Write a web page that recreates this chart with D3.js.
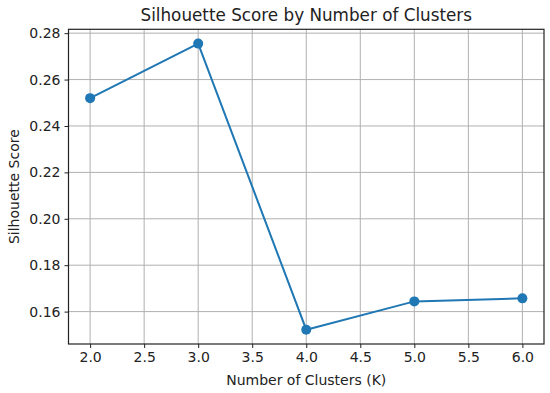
<!DOCTYPE html>
<html>
<head>
<meta charset="utf-8">
<script src="https://cdn.jsdelivr.net/npm/d3@7"></script>
<style>
  body { margin: 0; background: #fff; }
  text { font-family: "DejaVu Sans", sans-serif; fill: #222; }
</style>
</head>
<body>
<div id="chart"></div>
<script>
// Chart data
const clusters = [2, 3, 4, 5, 6];
const scores = [0.2520, 0.2755, 0.1522, 0.1644, 0.1657];
const xTicks = [2.0, 2.5, 3.0, 3.5, 4.0, 4.5, 5.0, 5.5, 6.0];
const yTicks = [0.16, 0.18, 0.20, 0.22, 0.24, 0.26, 0.28];

const [w, h] = [550, 393];
const margin = { top: 29.3, right: 6, bottom: 49, left: 68.5 };
const lineColor = "#1f77b4";

// matplotlib-like 5% margins
const pad = (lo, hi) => [lo - (hi - lo) * 0.05, hi + (hi - lo) * 0.05];

const xScale = d3.scaleLinear()
  .domain(pad(d3.min(clusters), d3.max(clusters)))
  .range([margin.left, w - margin.right]);

const yScale = d3.scaleLinear()
  .domain(pad(d3.min(scores), d3.max(scores)))
  .range([h - margin.bottom, margin.top]);

const svg = d3.select("#chart")
  .append("svg")
  .attr("width", w)
  .attr("height", h);

// Grid lines
svg.append("g")
  .selectAll("line")
  .data(xTicks)
  .enter()
  .append("line")
  .attr("x1", (d) => xScale(d))
  .attr("x2", (d) => xScale(d))
  .attr("y1", margin.top)
  .attr("y2", h - margin.bottom)
  .attr("stroke", "#b0b0b0")
  .attr("stroke-width", 1);

svg.append("g")
  .selectAll("line")
  .data(yTicks)
  .enter()
  .append("line")
  .attr("x1", margin.left)
  .attr("x2", w - margin.right)
  .attr("y1", (d) => yScale(d))
  .attr("y2", (d) => yScale(d))
  .attr("stroke", "#b0b0b0")
  .attr("stroke-width", 1);

// Axes
const xAxis = d3.axisBottom(xScale)
  .tickValues(xTicks)
  .tickSize(4)
  .tickPadding(4)
  .tickFormat(d3.format(".1f"));

const yAxis = d3.axisLeft(yScale)
  .tickValues(yTicks)
  .tickSize(4)
  .tickPadding(4)
  .tickFormat(d3.format(".2f"));

const gx = svg.append("g")
  .attr("transform", `translate(0, ${h - margin.bottom})`)
  .call(xAxis);

const gy = svg.append("g")
  .attr("transform", `translate(${margin.left}, 0)`)
  .call(yAxis);

[gx, gy].forEach((g) => {
  g.select(".domain").remove();
  g.selectAll("text").attr("font-size", 14).attr("fill", "#222")
    .style("font-family", "DejaVu Sans, sans-serif");
  g.selectAll(".tick line").attr("stroke", "#222").attr("stroke-width", 1);
});

// Frame
svg.append("rect")
  .attr("x", margin.left)
  .attr("y", margin.top)
  .attr("width", w - margin.left - margin.right)
  .attr("height", h - margin.top - margin.bottom)
  .attr("fill", "none")
  .attr("stroke", "#222")
  .attr("stroke-width", 1.2);

// Line and markers
const line = d3.line()
  .x((d, i) => xScale(clusters[i]))
  .y((d) => yScale(d));

svg.append("path")
  .datum(scores)
  .attr("d", line)
  .attr("fill", "none")
  .attr("stroke", lineColor)
  .attr("stroke-width", 2);

svg.selectAll("circle")
  .data(scores)
  .enter()
  .append("circle")
  .attr("cx", (d, i) => xScale(clusters[i]))
  .attr("cy", (d) => yScale(d))
  .attr("r", 5)
  .attr("fill", lineColor);

// Labels
svg.append("text")
  .attr("x", (margin.left + w - margin.right) / 2)
  .attr("y", 21)
  .attr("text-anchor", "middle")
  .attr("font-size", 16.8)
  .text("Silhouette Score by Number of Clusters");

svg.append("text")
  .attr("x", (margin.left + w - margin.right) / 2)
  .attr("y", 385)
  .attr("text-anchor", "middle")
  .attr("font-size", 14)
  .text("Number of Clusters (K)");

svg.append("text")
  .attr("transform", `translate(19, ${(margin.top + h - margin.bottom) / 2}) rotate(-90)`)
  .attr("text-anchor", "middle")
  .attr("font-size", 14)
  .text("Silhouette Score");
</script>
</body>
</html>
